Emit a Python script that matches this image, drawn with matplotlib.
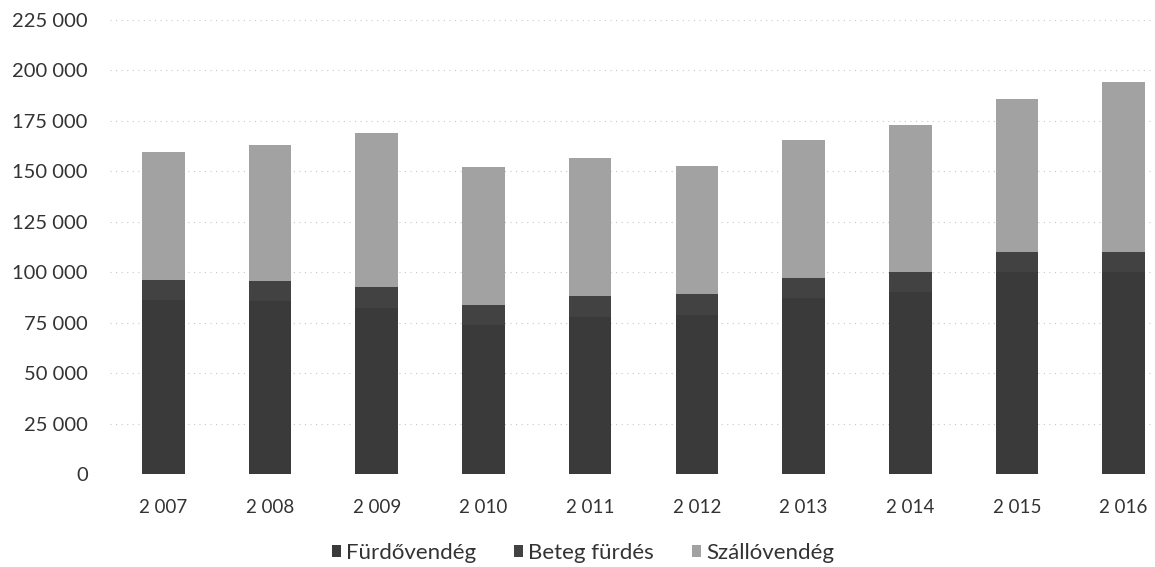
import matplotlib
matplotlib.use("Agg")
import matplotlib.pyplot as plt
import numpy as np
from matplotlib.ticker import FuncFormatter, MultipleLocator

years = ["2 007", "2 008", "2 009", "2 010", "2 011", "2 012", "2 013", "2 014", "2 015", "2 016"]
furdovendeg = [86000, 85500, 82500, 74000, 78000, 79000, 87000, 90000, 100000, 100000]
beteg_furdes = [10000, 10000, 10000, 10000, 10000, 10000, 10000, 10000, 10000, 10000]
szallovendeg = [63500, 67500, 76500, 68000, 68500, 63500, 68500, 73000, 76000, 84500]

series_names = ["Fürdővendég", "Beteg fürdés", "Szállóvendég"]
colors = ["#3a3a3a", "#424242", "#a2a2a2"]

plt.rcParams['font.family'] = ['Lato', 'DejaVu Sans']

fig = plt.figure(figsize=(11.55, 5.67), dpi=100)
ax = fig.add_axes([110/1155, 1-474/567, 1067/1155, (474-20)/567])

x = np.arange(len(years))
w = 0.4
b1 = ax.bar(x, furdovendeg, w, color=colors[0], label=series_names[0], zorder=3)
b2 = ax.bar(x, beteg_furdes, w, bottom=furdovendeg, color=colors[1], label=series_names[1], zorder=3)
bottom3 = np.array(furdovendeg) + np.array(beteg_furdes)
b3 = ax.bar(x, szallovendeg, w, bottom=bottom3, color=colors[2], label=series_names[2], zorder=3)

ax.set_xlim(-0.5, len(years) - 0.5)
ax.set_ylim(0, 225000)
ax.yaxis.set_major_locator(MultipleLocator(25000))
ax.yaxis.set_major_formatter(FuncFormatter(lambda v, p: f"{int(v):,}".replace(",", " ")))
ax.set_xticks(x)
ax.set_xticklabels(years)
ax.tick_params(axis='both', length=0, colors="#333333")
ax.tick_params(axis='x', pad=18, labelsize=13.5)
ax.tick_params(axis='y', pad=16, labelsize=14.5)
for s in ax.spines.values():
    s.set_visible(False)
ax.grid(axis='y', color="#c8c8c8", linestyle=(0, (1, 4)), linewidth=0.8, zorder=0)
ax.set_axisbelow(True)

fig.legend(handles=[b1, b2, b3], labels=series_names, loc='center', bbox_to_anchor=(583/1155, 1-553/567),
           ncol=3, frameon=False, fontsize=16, handlelength=0.4, handleheight=0.4,
           handletextpad=0.25, columnspacing=1.7, labelcolor="#333333")

fig.savefig("out.png", dpi=100)
